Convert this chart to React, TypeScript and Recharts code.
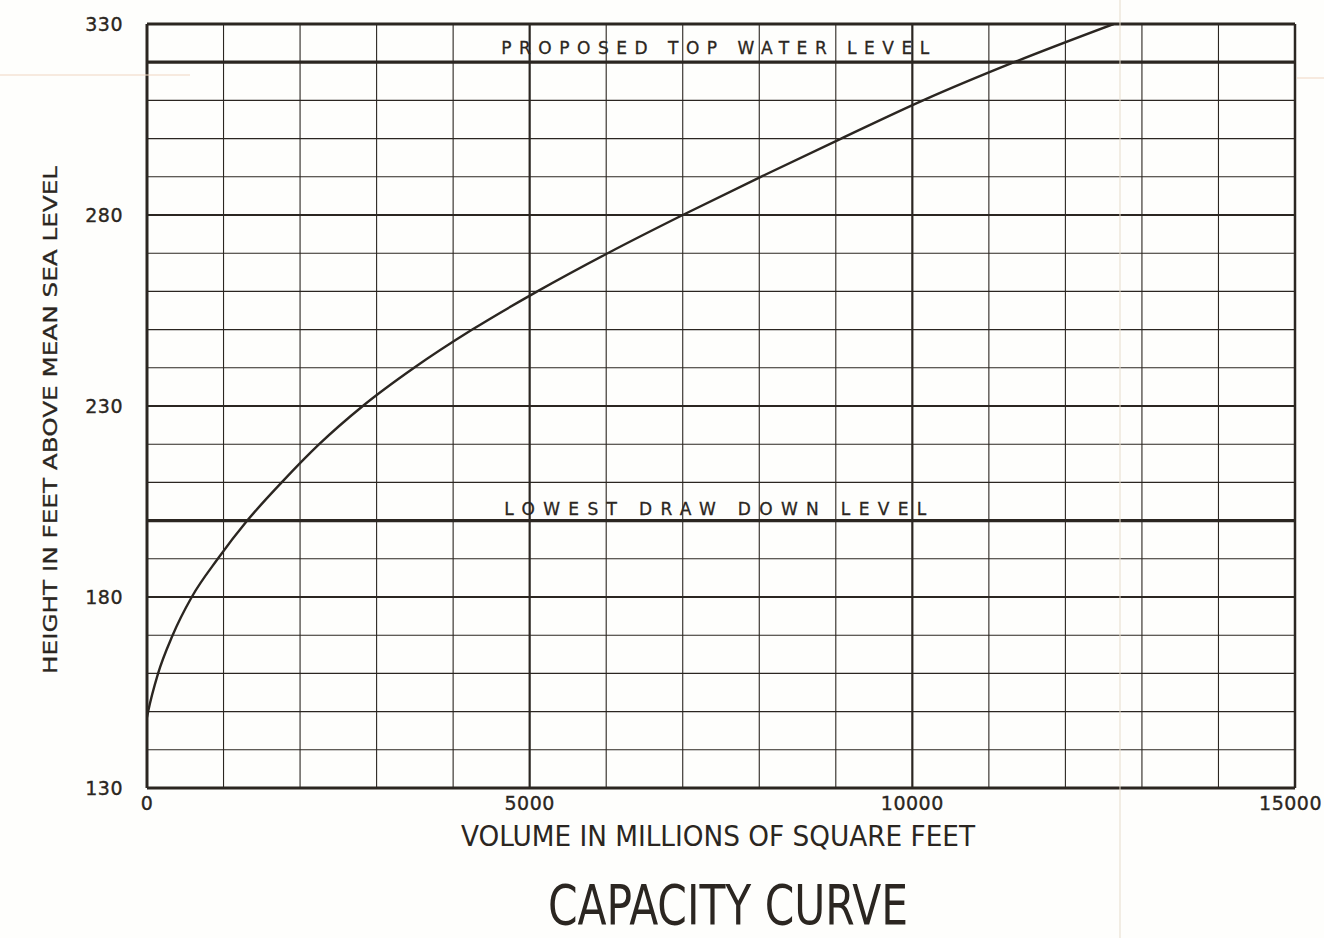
import { LineChart, Line, XAxis, YAxis, CartesianGrid, ReferenceLine } from "recharts";

// capacity curve: volume read at each 10 ft line of the sheet
const volume = [0, 15, 145, 335, 585, 925, 1310, 1760, 2250, 2820, 3490, 4250, 5100, 6020, 7000, 8020, 9070, 10140, 11330, 12630];
const height = [148.5, 150, 160, 170, 180, 190, 200, 210, 220, 230, 240, 250, 260, 270, 280, 290, 300, 310, 320, 330];

const xTicks = [0, 5000, 10000, 15000];
const yTicks = [130, 180, 230, 280, 330];
const xGrid = [1000, 2000, 3000, 4000, 6000, 7000, 8000, 9000, 11000, 12000, 13000, 14000];
const yGrid = [140, 150, 160, 170, 190, 210, 220, 240, 250, 260, 270, 290, 300, 310];
const xHeavy = [5000, 10000];
const yHeavy = [180, 230, 280];

const levels = [
  { value: 320, text: "PROPOSED  TOP  WATER  LEVEL", dy: -8, len: 428 },
  { value: 200, text: "LOWEST  DRAW  DOWN  LEVEL", dy: -6, len: 422 },
];

const data = volume.map((v, i) => ({ volume: v, height: height[i] }));

const ink = "#2b2621";
const font = "'DejaVu Sans', sans-serif";
const tickStyle = { fill: ink, fontSize: 19, fontFamily: font, letterSpacing: 0.5, stroke: ink, strokeWidth: 0.35 };

const LevelLabel = (props: any) => {
  const { viewBox, text, dy, len } = props;
  if (!viewBox) return null;
  return (
    <text
      x={viewBox.x + viewBox.width * 0.495}
      y={viewBox.y + dy}
      textAnchor="middle"
      textLength={len}
      lengthAdjust="spacing"
      fontFamily={font}
      fontSize={17}
      fill={ink}
      stroke={ink}
      strokeWidth={0.3}
    >
      {text}
    </text>
  );
};

// last tick sits on the paper edge, keep it inside
const XTick = (props: any) => {
  const { x, y, payload } = props;
  const last = payload.value === xTicks[xTicks.length - 1];
  return (
    <text
      x={last ? 1322 : x}
      y={y}
      dy="0.71em"
      textAnchor={last ? "end" : "middle"}
      {...tickStyle}
    >
      {payload.value}
    </text>
  );
};

export default function App() {
  return (
    <div style={{ position: "absolute", left: 0, top: 0, width: 1324, height: 938, background: "#fefefc", overflow: "hidden" }}>
      <LineChart width={1324} height={938} data={data} margin={{ top: 24, right: 29, bottom: 0, left: 0 }}>
        <CartesianGrid horizontalValues={yGrid} verticalValues={xGrid} stroke={ink} strokeWidth={1.1} />
        <XAxis
          dataKey="volume"
          type="number"
          domain={[0, 15000]}
          ticks={xTicks}
          tickSize={0}
          tickMargin={9}
          height={150}
          stroke={ink}
          strokeWidth={3}
          tick={<XTick />}
          allowDataOverflow
        />
        <YAxis
          dataKey="height"
          type="number"
          domain={[130, 330]}
          ticks={yTicks}
          tickSize={0}
          tickMargin={24}
          width={147}
          stroke={ink}
          strokeWidth={3}
          tick={tickStyle}
          allowDataOverflow
        />
        {xHeavy.map((v) => (
          <ReferenceLine key={`xh${v}`} x={v} stroke={ink} strokeWidth={2.2} />
        ))}
        {yHeavy.map((v) => (
          <ReferenceLine key={`yh${v}`} y={v} stroke={ink} strokeWidth={2.2} />
        ))}
        <ReferenceLine y={330} stroke={ink} strokeWidth={3} />
        <ReferenceLine x={15000} stroke={ink} strokeWidth={2.5} />
        {levels.map((l) => (
          <ReferenceLine
            key={l.text}
            y={l.value}
            stroke={ink}
            strokeWidth={3.2}
            label={<LevelLabel text={l.text} dy={l.dy} len={l.len} />}
          />
        ))}
        <Line
          type="monotone"
          dataKey="height"
          stroke={ink}
          strokeWidth={2.4}
          dot={false}
          isAnimationActive={false}
        />
      </LineChart>
      <svg width={1324} height={938} style={{ position: "absolute", left: 0, top: 0, pointerEvents: "none" }}>
        <line x1={1120} y1={0} x2={1120} y2={938} stroke="#e6dccb" strokeWidth={1} />
        <line x1={0} y1={75} x2={190} y2={75} stroke="#f0d6c2" strokeWidth={1} />
        <line x1={1297} y1={78} x2={1324} y2={78} stroke="#f0d6c2" strokeWidth={1} />
        <text
          transform="translate(57 420) rotate(-90)"
          textAnchor="middle"
          textLength={508}
          lengthAdjust="spacingAndGlyphs"
          fontFamily={font}
          fontSize={20}
          fill={ink}
          stroke={ink}
          strokeWidth={0.3}
        >
          HEIGHT IN FEET ABOVE MEAN SEA LEVEL
        </text>
        <text
          x={718}
          y={846}
          textAnchor="middle"
          textLength={514}
          lengthAdjust="spacingAndGlyphs"
          fontFamily="'DejaVu Sans Condensed', 'DejaVu Sans', sans-serif"
          fontSize={28}
          fill={ink}
        >
          VOLUME IN MILLIONS OF SQUARE FEET
        </text>
        <text
          x={728}
          y={924}
          textAnchor="middle"
          textLength={360}
          lengthAdjust="spacingAndGlyphs"
          fontFamily="'Liberation Sans Narrow', 'DejaVu Sans Condensed', sans-serif"
          fontSize={56}
          fill={ink}
        >
          CAPACITY CURVE
        </text>
      </svg>
    </div>
  );
}
